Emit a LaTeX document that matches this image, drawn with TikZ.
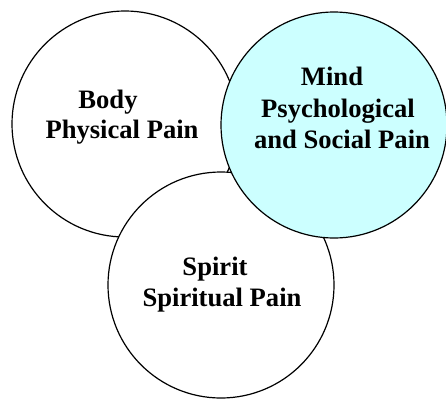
\documentclass[tikz,border=0pt]{standalone}
\usepackage{fontspec}
\setmainfont{Liberation Serif}
\definecolor{mindcyan}{RGB}{204,255,255}
\begin{document}
\begin{tikzpicture}[x=1pt, y=-1pt, line cap=round, line join=round]
		
		\useasboundingbox (0,0) rectangle (446,399);
		
		\tikzset{
			ring/.style={circle, draw, line width=1.2pt, minimum size=226pt, inner sep=0pt},
			paintext/.style={anchor=base, inner sep=0pt, font=\fontsize{26.6}{31}\selectfont\bfseries}
		}
		
		% Define circle centres
		\coordinate (Bc) at (125,124);
		\coordinate (Mc) at (334,125);
		\coordinate (Sc) at (221,285);
		
		% Draw circles, back to front
		\node[ring, fill=white] (body) at (Bc) {};
		\node[ring, fill=white] (spirit) at (Sc) {};
		\node[ring, fill=mindcyan] (mind) at (Mc) {};
		
		% Body text
		\node[paintext] (bodyA) at (108,108) {Body};
		\node[paintext] (bodyB) at (122,138) {Physical Pain};
		
		% Mind text
		\node[paintext] (mindA) at (332,85) {Mind};
		\node[paintext] (mindB) at (338,117) {Psychological};
		\node[paintext] (mindC) at (342,148) {and Social Pain};
		
		% Spirit text
		\node[paintext] (spiritA) at (215,275) {Spirit};
		\node[paintext] (spiritB) at (222,306) {Spiritual Pain};
		
	\end{tikzpicture}
\end{document}
